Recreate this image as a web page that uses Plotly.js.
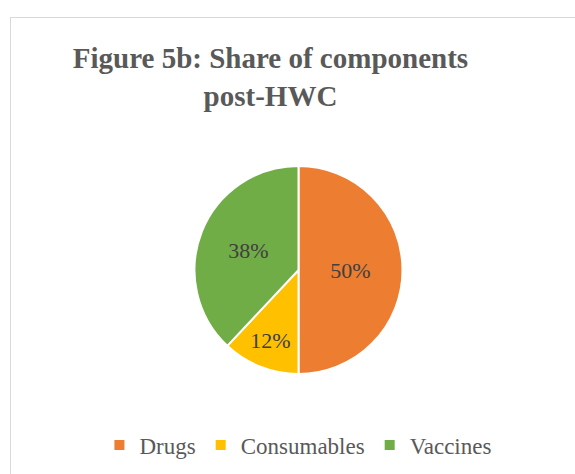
<!DOCTYPE html>
<html>
<head>
<meta charset="utf-8">
<script src="https://cdn.plot.ly/plotly-3.0.1.min.js"></script>
<style>
  html, body { margin: 0; padding: 0; background: #ffffff; }
  #wrap { position: relative; width: 575px; height: 474px; overflow: hidden; }
  #frame { position: absolute; left: 10px; top: 17px; width: 600px; height: 500px;
           border: 1.5px solid #d9d9d9; box-sizing: border-box; }
  #chart { position: absolute; left: 0; top: 0; width: 575px; height: 474px; }
</style>
</head>
<body>
<div id="wrap">
  <div id="frame"></div>
  <div id="chart"></div>
</div>
<script>
const categories = ["Drugs", "Consumables", "Vaccines"];
const shares = [50, 12, 38];
const sliceColors = ["#ED7D31", "#FFC000", "#70AD47"];
const chartTitle = "Figure 5b: Share of components<br>post-HWC";

const W = 575, H = 474;
const cx = 298.5, cy = 270, r = 104;

const trace = {
  type: "pie",
  labels: categories,
  values: shares,
  sort: false,
  direction: "clockwise",
  rotation: 0,
  marker: { colors: sliceColors, line: { color: "#ffffff", width: 2 } },
  textinfo: "percent",
  textposition: "inside",
  insidetextorientation: "horizontal",
  textfont: { family: "Liberation Serif, Times New Roman, serif", size: 22, color: "#404040" },
  domain: { x: [(cx - r) / W, (cx + r) / W], y: [(H - cy - r) / H, (H - cy + r) / H] },
  hoverinfo: "none"
};

const layout = {
  width: W, height: H,
  margin: { l: 0, r: 0, t: 0, b: 0 },
  paper_bgcolor: "rgba(0,0,0,0)",
  plot_bgcolor: "rgba(0,0,0,0)",
  title: {
    text: "<b>" + chartTitle.replace("<br>", "</b><br><b>") + "</b>",
    font: { family: "Liberation Serif, Times New Roman, serif", size: 29, color: "#595959" },
    x: 0.4704, xanchor: "center", xref: "paper",
    y: 1 - 68 / H, yanchor: "top", yref: "container"
  },
  showlegend: true,
  legend: {
    orientation: "h",
    x: 0.519, xanchor: "center",
    y: (H - 445) / H, yanchor: "middle",
    font: { family: "Liberation Serif, Times New Roman, serif", size: 23, color: "#595959" },
    traceorder: "normal",
    itemclick: false, itemdoubleclick: false
  }
};

Plotly.newPlot("chart", [trace], layout, { displayModeBar: false, staticPlot: true });
</script>
</body>
</html>
